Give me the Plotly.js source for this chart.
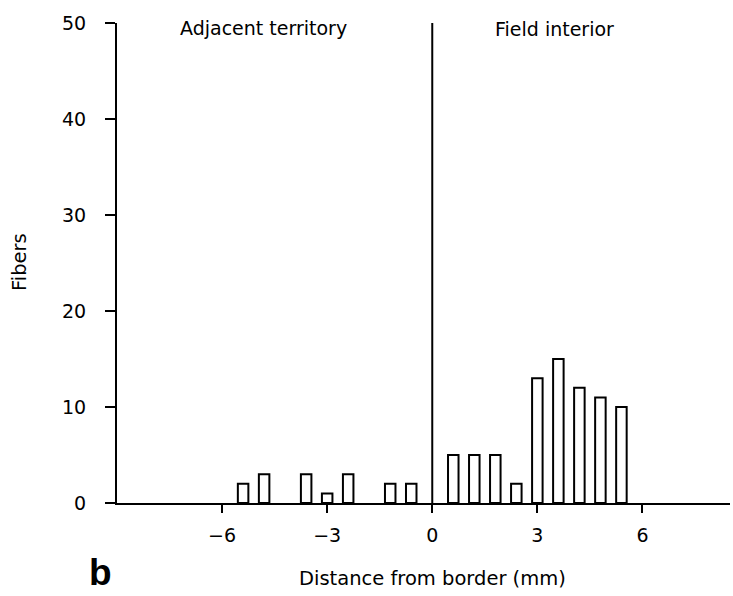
<!DOCTYPE html>
<html>
<head>
<meta charset="utf-8">
<script src="https://cdn.plot.ly/plotly-3.0.1.min.js"></script>
<style>
  html, body { margin: 0; padding: 0; background: #fff; }
  #chart { width: 733px; height: 596px; }
</style>
</head>
<body>
<div id="chart"></div>
<script>
// Bin centres (mm from border) and fiber counts
const adjacentX = [-5.4, -4.8, -3.6, -3.0, -2.4, -1.2, -0.6];
const adjacentY = [2, 3, 3, 1, 3, 2, 2];
const interiorX = [0.6, 1.2, 1.8, 2.4, 3.0, 3.6, 4.2, 4.8, 5.4];
const interiorY = [5, 5, 5, 2, 13, 15, 12, 11, 10];
const xTicks = [-6, -3, 0, 3, 6];
const yTicks = [0, 10, 20, 30, 40, 50];
const regionLabels = ["Adjacent territory", "Field interior"];

const font = "DejaVu Sans, Liberation Sans, Arial, sans-serif";

const barStyle = {
  type: "bar",
  width: 0.3,
  marker: { color: "#ffffff", line: { color: "#000000", width: 2 } },
  hoverinfo: "x+y",
  showlegend: false
};

const data = [
  Object.assign({ x: adjacentX, y: adjacentY }, barStyle),
  Object.assign({ x: interiorX, y: interiorY }, barStyle)
];

const layout = {
  width: 733,
  height: 596,
  margin: { l: 117, r: 3, t: 23, b: 93 },
  paper_bgcolor: "#ffffff",
  plot_bgcolor: "#ffffff",
  font: { family: font, color: "#000000", size: 19 },
  barmode: "overlay",
  xaxis: {
    range: [-9, 8.5],
    tickvals: xTicks,
    ticktext: xTicks.map(v => v < 0 ? "\u2212" + Math.abs(v) : String(v)),
    ticks: "outside",
    ticklen: 8,
    tickwidth: 2,
    tickcolor: "#000",
    showgrid: false,
    zeroline: false,
    showline: true,
    linecolor: "#000",
    linewidth: 2,
    tickfont: { size: 19 },
    ticklabelstandoff: 6
  },
  yaxis: {
    range: [0, 50],
    tickvals: yTicks,
    ticks: "outside",
    ticklen: 10,
    tickwidth: 2,
    tickcolor: "#000",
    showgrid: false,
    zeroline: false,
    showline: true,
    linecolor: "#000",
    linewidth: 2,
    tickfont: { size: 19 },
    ticklabelstandoff: 15
  },
  shapes: [
    { type: "line", xref: "x", yref: "y", x0: 0, x1: 0, y0: 0, y1: 50,
      line: { color: "#000", width: 2 } }
  ],
  annotations: [
    { text: regionLabels[0], xref: "paper", yref: "paper", x: (263 - 117) / 613, y: 1 - (28 - 23) / 480,
      showarrow: false, xanchor: "center", yanchor: "middle", font: { size: 19 } },
    { text: regionLabels[1], xref: "paper", yref: "paper", x: (554 - 117) / 613, y: 1 - (29 - 23) / 480,
      showarrow: false, xanchor: "center", yanchor: "middle", font: { size: 19 } },
    { text: "Fibers", xref: "paper", yref: "paper", x: (19 - 117) / 613, y: 1 - (262 - 23) / 480,
      showarrow: false, textangle: -90, xanchor: "center", yanchor: "middle", font: { size: 19.5 } },
    { text: "Distance from border (mm)", xref: "paper", yref: "paper", x: (432 - 117) / 613, y: 1 - (578 - 23) / 480,
      showarrow: false, xanchor: "center", yanchor: "middle", font: { size: 19.5 } },
    { text: "<b>b</b>", xref: "paper", yref: "paper", x: (100 - 117) / 613, y: 1 - (572 - 23) / 480,
      showarrow: false, xanchor: "center", yanchor: "middle",
      font: { size: 37, family: "Liberation Sans, Arial, sans-serif" } }
  ]
};

Plotly.newPlot("chart", data, layout, { displayModeBar: false, staticPlot: true });
</script>
</body>
</html>
